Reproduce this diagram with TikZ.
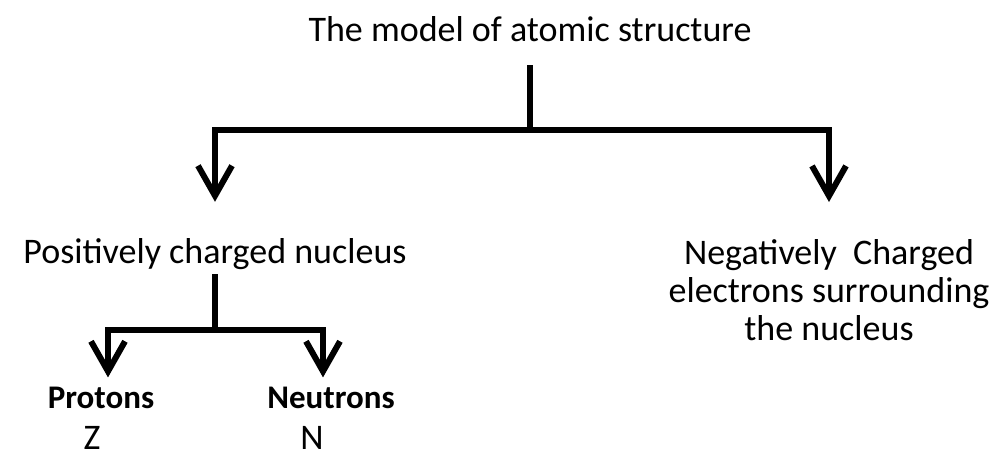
\documentclass[tikz,border=0pt]{standalone}
\usepackage{fontspec}
\setmainfont{Carlito}
\usetikzlibrary{arrows.meta, positioning}

\begin{document}
\begin{tikzpicture}[x=1pt, y=-1pt,
  lbl/.style={inner sep=0pt, font=\fontsize{36}{38}\selectfont},
  sublbl/.style={inner sep=0pt, font=\fontsize{33}{36}\selectfont\bfseries},
  link/.style={line width=6pt},
  branch/.style={line width=6pt, -{Straight Barb[length=30pt, width=34pt]}}]
  \useasboundingbox (0,0) rectangle (999,460);
  % texts
  \node[lbl, anchor=base] (title) at (530,42) {The model of atomic structure};
  \node[lbl, anchor=base] (nucleus) at (215,263) {Positively charged nucleus};
  \node[lbl, anchor=north, align=center] (electrons) at (829,239) {Negatively\ \ Charged\\electrons surrounding\\the nucleus};
  \node[sublbl, anchor=base] (protons) at (101,408) {Protons};
  \node[sublbl, anchor=base] (neutrons) at (331,408) {Neutrons};
  \node[lbl, anchor=base] (zsym) at (92,449) {Z};
  \node[lbl, anchor=base] (nsym) at (312,449) {N};
  % junctions
  \coordinate (split) at (530,130);
  \coordinate (subsplit) at (215,330);
  % connectors
  \draw[link, shorten <=23pt] (title.south) -- (split);
  \draw[branch, shorten >=36pt] (split) -| (nucleus.north);
  \draw[branch, shorten >=37pt] (split) -| (electrons.north);
  \draw[link, shorten <=5pt] (nucleus.south) -- (subsplit);
  \draw[branch, shorten >=9pt] (subsplit) -| ([xshift=7pt]protons.north);
  \draw[branch, shorten >=9pt] (subsplit) -| ([xshift=-8pt]neutrons.north);
\end{tikzpicture}
\end{document}
